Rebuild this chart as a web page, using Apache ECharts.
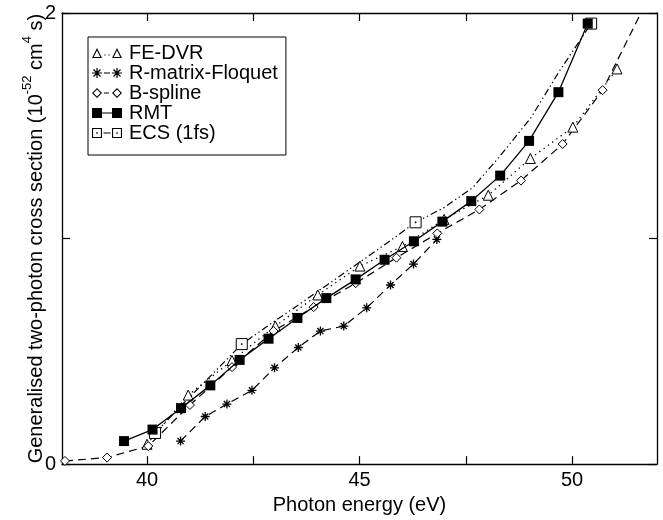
<!DOCTYPE html>
<html>
<head>
<meta charset="utf-8">
<script src="https://cdn.jsdelivr.net/npm/echarts@6/dist/echarts.min.js"></script>
<style>html,body{margin:0;padding:0;background:#fff;}#c{width:663px;height:520px;}</style>
</head>
<body>
<div id="c"></div>
<script>
// ---- data ----
const xTickLabels = [40, 45, 50];
const xTicks = [40, 42.5, 45, 47.5, 50];
const yTickLabels = [0, 2];

const feX = [40.0, 40.97, 42.0, 43.02, 44.02, 45.01, 46.01, 46.99, 48.03, 49.02, 50.02, 51.06];
const feY = [0.088, 0.306, 0.459, 0.612, 0.750, 0.878, 0.965, 1.085, 1.192, 1.355, 1.494, 1.752];

const rmfX = [40.79, 41.37, 41.88, 42.47, 43.0, 43.56, 44.08, 44.63, 45.17, 45.73, 46.27, 46.82];
const rmfY = [0.102, 0.211, 0.266, 0.327, 0.427, 0.517, 0.590, 0.612, 0.693, 0.794, 0.887, 0.996];

const bsX = [38.07, 39.06, 40.03, 41.01, 42.0, 42.98, 43.92, 44.91, 45.87, 46.83, 47.82, 48.8, 49.78, 50.72, 51.62];
const bsY = [0.014, 0.029, 0.080, 0.262, 0.430, 0.590, 0.696, 0.802, 0.915, 1.023, 1.129, 1.257, 1.419, 1.658, 2.0];

const rmtX = [39.46, 40.13, 40.80, 41.49, 42.18, 42.86, 43.54, 44.22, 44.91, 45.59, 46.28, 46.95, 47.63, 48.31, 48.99, 49.68, 50.37];
const rmtY = [0.102, 0.153, 0.248, 0.349, 0.462, 0.556, 0.648, 0.736, 0.819, 0.906, 0.988, 1.075, 1.166, 1.279, 1.433, 1.649, 1.953];

const ecsX = [40.19, 40.87, 41.55, 42.23, 42.91, 43.59, 44.27, 44.95, 45.63, 46.32, 46.99, 47.67, 48.35, 49.03, 49.71, 50.45];
const ecsY = [0.138, 0.272, 0.401, 0.532, 0.622, 0.709, 0.799, 0.888, 0.978, 1.072, 1.137, 1.227, 1.376, 1.535, 1.744, 1.953];
const ecsMarked = [0, 3, 9, 15];

const names = ['FE-DVR', 'R-matrix-Floquet', 'B-spline', 'RMT', 'ECS (1fs)'];

// ---- build ----
const zip = (xs, ys) => xs.map((x, i) => [x, ys[i]]);
const FONT = '"Liberation Sans", Arial, Helvetica, sans-serif';

const bsData = zip(bsX, bsY).map((p, i) => i === bsX.length - 1 ? {value: p, symbol: 'none'} : p);
const ecsData = zip(ecsX, ecsY).map((p, i) => ecsMarked.includes(i) ? p : {value: p, symbol: 'none'});

const asterisk = 'path://M5,0L5,10M0,5L10,5M1.6,1.6L8.4,8.4M1.6,8.4L8.4,1.6';
const dotSquare = 'path://M0,0L10,0L10,10L0,10Z M4.6,4.6L5.4,4.6L5.4,5.4L4.6,5.4Z';

// legend sample icons (marker - line - marker), drawn as filled shapes in a 30x10 box
function rect(x0, y0, x1, y1) { return `M${x0},${y0}L${x1},${y0}L${x1},${y1}L${x0},${y1}Z`; }
function triRing(o) { return `M${o},10L${o+5},0L${o+10},10Z M${o+1.78},8.9L${o+8.22},8.9L${o+5},2.45Z`; }
function diaRing(o) { return `M${o+5},0L${o+10},5L${o+5},10L${o},5Z M${o+5},1.56L${o+1.56},5L${o+5},8.44L${o+8.44},5Z`; }
function star(o) {
  return rect(o+4.4, 0, o+5.6, 10) + ' ' + rect(o, 4.4, o+10, 5.6) + ' ' +
    `M${o+1.08},1.92L${o+1.92},1.08L${o+8.92},8.08L${o+8.08},8.92Z ` +
    `M${o+1.08},8.08L${o+8.08},1.08L${o+8.92},1.92L${o+1.92},8.92Z`;
}
function sqRingDot(o) {
  return rect(o, 0, o+10, 10) + ` M${o+1.1},1.1L${o+1.1},8.9L${o+8.9},8.9L${o+8.9},1.1Z ` + rect(o+4.3, 4.3, o+5.7, 5.7);
}
const legendIcons = [
  'path://' + triRing(0) + ' ' + rect(12.4, 6.4, 13.6, 7.6) + ' ' + rect(16.4, 6.4, 17.6, 7.6) + ' ' + triRing(20),
  'path://' + star(0) + ' ' + rect(12, 4.4, 18, 5.6) + ' ' + star(20),
  'path://' + diaRing(0) + ' ' + rect(12, 4.4, 17, 5.6) + ' ' + diaRing(20),
  'path://' + rect(0, 0, 10, 10) + ' ' + rect(10, 4.4, 20, 5.6) + ' ' + rect(20, 0, 30, 10),
  'path://' + sqRingDot(0) + ' ' + rect(11.5, 4.4, 18.5, 5.6) + ' ' + sqRingDot(20)
];

const hollow = {color: '#fff', borderColor: '#000', borderWidth: 1};

const chart = echarts.init(document.getElementById('c'), null, {renderer: 'canvas'});

const axisCommon = {
  axisLine: {show: true, onZero: false, lineStyle: {color: '#000', width: 1.3}},
  splitLine: {show: false}
};

chart.setOption({
  animation: false,
  backgroundColor: '#fff',
  textStyle: {fontFamily: FONT},
  grid: {left: 62, right: 6, top: 13, bottom: 50, containLabel: false},
  legend: {
    orient: 'vertical',
    left: 88, top: 37,
    data: names.map((n, i) => ({name: n, icon: legendIcons[i], itemStyle: {color: '#000', borderWidth: 0}})),
    backgroundColor: '#fff',
    borderColor: '#000', borderWidth: 1,
    padding: [6, 8, 12, 4],
    itemGap: 0,
    itemWidth: 30, itemHeight: 10,
    textStyle: {fontSize: 20, color: '#000', fontFamily: FONT, padding: [2, 0, 0, 2]}
  },
  xAxis: [
    Object.assign({
      type: 'value', min: 38, max: 52, position: 'bottom',
      name: 'Photon energy (eV)', nameLocation: 'middle', nameGap: 23,
      nameTextStyle: {fontSize: 20, color: '#000', fontFamily: FONT},
      axisTick: {show: true, inside: true, length: 8, customValues: xTicks, lineStyle: {color: '#000', width: 1.2}},
      axisLabel: {show: true, customValues: xTickLabels, fontSize: 20, color: '#000', margin: 6, fontFamily: FONT}
    }, axisCommon),
    Object.assign({
      type: 'value', min: 38, max: 52, position: 'top',
      axisTick: {show: true, inside: true, length: 8, customValues: xTicks, lineStyle: {color: '#000', width: 1.2}},
      axisLabel: {show: false}
    }, axisCommon)
  ],
  yAxis: [
    Object.assign({
      type: 'value', min: 0, max: 2, interval: 1, position: 'left',
      name: '{n|Generalised two-photon cross section (10}{s|-52}{n| cm}{s|4}{n| s)}',
      nameLocation: 'middle', nameRotate: 90, nameGap: 16, nameMoveOverlap: false,
      nameTextStyle: {
        color: '#000', fontFamily: FONT,
        rich: {
          n: {fontSize: 20, color: '#000', fontFamily: FONT, lineHeight: 25, verticalAlign: 'bottom'},
          s: {fontSize: 13, color: '#000', fontFamily: FONT, lineHeight: 25, verticalAlign: 'top'}
        }
      },
      axisTick: {show: true, inside: true, length: 8, lineStyle: {color: '#000', width: 1.2}},
      axisLabel: {show: true, fontSize: 20, color: '#000', margin: 6, fontFamily: FONT,
        formatter: v => yTickLabels.includes(v) ? String(v) : ''}
    }, axisCommon),
    Object.assign({
      type: 'value', min: 0, max: 2, interval: 1, position: 'right',
      axisTick: {show: true, inside: true, length: 8, lineStyle: {color: '#000', width: 1.2}},
      axisLabel: {show: false}
    }, axisCommon)
  ],
  series: [
    {
      name: names[0], type: 'line', data: zip(feX, feY),
      symbol: 'triangle', symbolSize: 10, showAllSymbol: true,
      lineStyle: {color: '#000', width: 1.3, type: [1.3, 4]},
      itemStyle: hollow, z: 3
    },
    {
      name: names[1], type: 'line', data: zip(rmfX, rmfY),
      symbol: asterisk, symbolSize: 9, showAllSymbol: true,
      lineStyle: {color: '#000', width: 1.2, type: [8, 5]},
      itemStyle: {color: 'rgba(0,0,0,0)', borderColor: '#000', borderWidth: 1.3}, z: 3
    },
    {
      name: names[2], type: 'line', data: bsData,
      symbol: 'diamond', symbolSize: 9, showAllSymbol: true,
      lineStyle: {color: '#000', width: 1.2, type: [8, 5]},
      itemStyle: hollow, z: 3
    },
    {
      name: names[3], type: 'line', data: zip(rmtX, rmtY),
      symbol: 'rect', symbolSize: 10, showAllSymbol: true,
      lineStyle: {color: '#000', width: 1.3, type: 'solid'},
      itemStyle: {color: '#000', borderColor: '#000', borderWidth: 0}, z: 4
    },
    {
      name: names[4], type: 'line', data: ecsData,
      symbol: dotSquare, symbolSize: 11, showAllSymbol: true,
      lineStyle: {color: '#000', width: 1.2, type: [7, 3, 1.3, 3, 1.3, 3]},
      itemStyle: {color: '#fff', borderColor: '#000', borderWidth: 1}, z: 3
    }
  ]
});
</script>
</body>
</html>
